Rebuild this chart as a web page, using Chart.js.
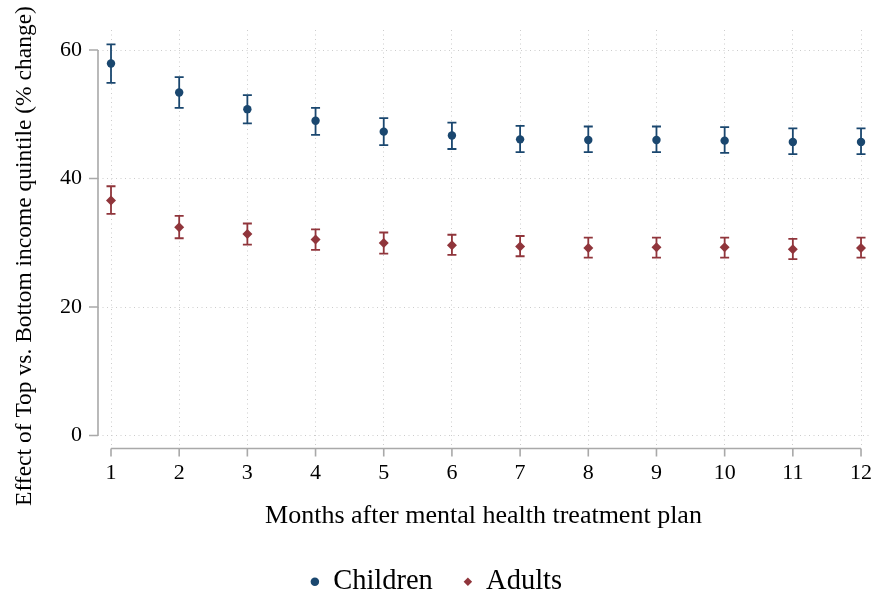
<!DOCTYPE html>
<html>
<head>
<meta charset="utf-8">
<script src="https://cdn.jsdelivr.net/npm/chart.js@4/dist/chart.umd.min.js"></script>
<style>
  html, body { margin: 0; padding: 0; background: #ffffff; }
  #wrap { width: 874px; height: 596px; }
</style>
</head>
<body>
<div id="wrap"><canvas id="chart" width="874" height="596"></canvas></div>
<script>
// Months after the treatment plan
const months = [1, 2, 3, 4, 5, 6, 7, 8, 9, 10, 11, 12];
const yTicks = [0, 20, 40, 60];

// Children: point estimate and 95% CI bounds (% change)
const childEst = [57.9, 53.4, 50.8, 49.0, 47.3, 46.7, 46.1, 46.0, 46.0, 45.9, 45.7, 45.7];
const childLo  = [54.9, 51.0, 48.6, 46.8, 45.2, 44.6, 44.1, 44.1, 44.1, 44.0, 43.8, 43.8];
const childHi  = [60.9, 55.8, 53.0, 51.0, 49.4, 48.7, 48.2, 48.1, 48.1, 48.0, 47.8, 47.8];

// Adults: point estimate and 95% CI bounds (% change)
const adultEst = [36.6, 32.4, 31.35, 30.5, 29.95, 29.6, 29.4, 29.2, 29.3, 29.3, 29.0, 29.2];
const adultLo  = [34.5, 30.7, 29.7, 28.9, 28.3, 28.1, 27.9, 27.7, 27.7, 27.7, 27.45, 27.7];
const adultHi  = [38.8, 34.2, 33.0, 32.1, 31.6, 31.25, 31.05, 30.8, 30.8, 30.8, 30.6, 30.8];

const yTitle = 'Effect of Top vs. Bottom income quintile (% change)';
const xTitle = 'Months after mental health treatment plan';

const NAVY = '#1a476f';
const MAROON = '#90353b';
const AXIS_GRAY = '#a9a9a9';
const GRID_GRAY = '#cccccc';
const SERIF = "'Liberation Serif', 'Times New Roman', serif";

Chart.defaults.font.family = SERIF;
Chart.defaults.color = '#000000';

const toPoints = (xs, ys) => xs.map((x, i) => ({ x: x, y: ys[i] }));

// Vertical CI whiskers with short caps, drawn beneath the markers
const errorBars = {
  id: 'errorBars',
  beforeDatasetsDraw(chart) {
    const { ctx, scales: { x, y } } = chart;
    chart.data.datasets.forEach((ds) => {
      ctx.save();
      ctx.strokeStyle = ds.borderColor;
      ctx.lineWidth = 1.8;
      const cap = 4.5;
      ds.lo.forEach((lo, i) => {
        const px = x.getPixelForValue(months[i]);
        const pLo = y.getPixelForValue(lo);
        const pHi = y.getPixelForValue(ds.hi[i]);
        ctx.beginPath();
        ctx.moveTo(px, pLo); ctx.lineTo(px, pHi);
        ctx.moveTo(px - cap, pLo); ctx.lineTo(px + cap, pLo);
        ctx.moveTo(px - cap, pHi); ctx.lineTo(px + cap, pHi);
        ctx.stroke();
      });
      ctx.restore();
    });
  }
};

// Detached axis lines spanning only the tick range, with outward tick marks,
// plus the vertical axis title
const axisLines = {
  id: 'axisLines',
  afterDraw(chart) {
    const { ctx, chartArea, scales: { x, y } } = chart;
    ctx.save();
    ctx.strokeStyle = AXIS_GRAY;
    ctx.lineWidth = 1.6;
    // y axis
    const ax = chartArea.left;
    const yTop = y.getPixelForValue(yTicks[yTicks.length - 1]);
    const yBot = y.getPixelForValue(yTicks[0]);
    ctx.beginPath();
    ctx.moveTo(ax, yTop); ctx.lineTo(ax, yBot);
    yTicks.forEach((v) => {
      const py = y.getPixelForValue(v);
      ctx.moveTo(ax - 9, py); ctx.lineTo(ax, py);
    });
    // x axis
    const ay = chartArea.bottom + 3;
    ctx.moveTo(x.getPixelForValue(months[0]), ay);
    ctx.lineTo(x.getPixelForValue(months[months.length - 1]), ay);
    months.forEach((m) => {
      const px = x.getPixelForValue(m);
      ctx.moveTo(px, ay); ctx.lineTo(px, ay + 8);
    });
    ctx.stroke();

    // y axis title, rotated
    ctx.translate(25, 256);
    ctx.rotate(-Math.PI / 2);
    ctx.fillStyle = '#000000';
    ctx.font = '23.5px ' + SERIF;
    ctx.textAlign = 'center';
    ctx.textBaseline = 'middle';
    ctx.fillText(yTitle, 0, 0);
    ctx.restore();
  }
};

new Chart(document.getElementById('chart'), {
  type: 'scatter',
  data: {
    datasets: [
      {
        label: 'Children',
        data: toPoints(months, childEst),
        lo: childLo,
        hi: childHi,
        pointStyle: 'circle',
        pointRadius: 4.2,
        pointHoverRadius: 4.2,
        backgroundColor: NAVY,
        borderColor: NAVY,
        borderWidth: 0,
        showLine: false
      },
      {
        label: 'Adults',
        data: toPoints(months, adultEst),
        lo: adultLo,
        hi: adultHi,
        pointStyle: 'rectRot',
        pointRadius: 5,
        pointHoverRadius: 5,
        backgroundColor: MAROON,
        borderColor: MAROON,
        borderWidth: 0,
        showLine: false
      }
    ]
  },
  options: {
    responsive: false,
    animation: false,
    devicePixelRatio: 1,
    layout: { padding: { top: 30, right: 1, left: 0, bottom: -10 } },
    plugins: {
      tooltip: { enabled: false },
      legend: {
        position: 'bottom',
        labels: {
          usePointStyle: true,
          boxWidth: 8,
          boxHeight: 6,
          padding: 31,
          color: '#000000',
          font: { family: SERIF, size: 28.5 }
        }
      }
    },
    scales: {
      x: {
        type: 'linear',
        min: 0.8093,
        max: 12.117,
        afterBuildTicks: (s) => { s.ticks = months.map((m) => ({ value: m })); },
        afterFit: (s) => { s.height = 91; s.paddingLeft = 0; s.paddingRight = 0; },
        grid: { color: GRID_GRAY, lineWidth: 1, drawTicks: false },
        border: { display: false, dash: [1, 3.5] },
        ticks: { padding: 15, font: { size: 22 }, color: '#000000', maxRotation: 0 },
        title: {
          display: true,
          text: xTitle,
          font: { size: 26 },
          color: '#000000',
          padding: { top: 4, bottom: 5 }
        }
      },
      y: {
        type: 'linear',
        min: -1.5625,
        max: 63.125,
        afterBuildTicks: (s) => { s.ticks = yTicks.map((v) => ({ value: v })); },
        afterFit: (s) => { s.width = 98; s.paddingTop = 0; s.paddingBottom = 0; },
        grid: { color: GRID_GRAY, lineWidth: 1, drawTicks: false },
        border: { display: false, dash: [1, 3.5] },
        ticks: { padding: 16, font: { size: 22 }, color: '#000000' }
      }
    }
  },
  plugins: [errorBars, axisLines]
});
</script>
</body>
</html>
